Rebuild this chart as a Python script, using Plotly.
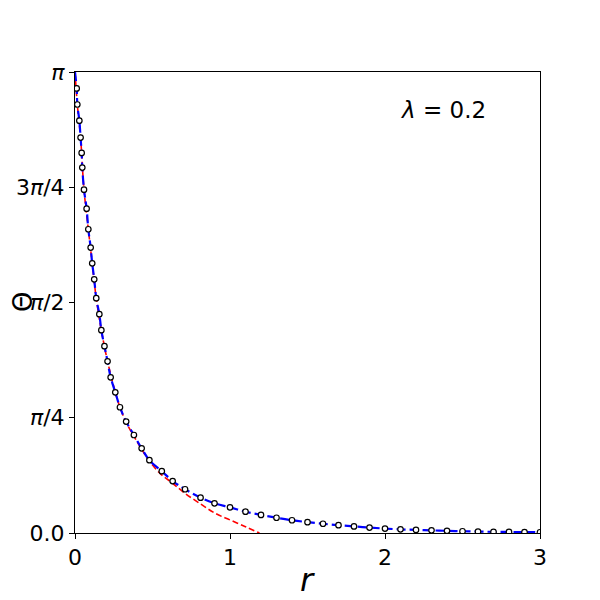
import numpy as np
import plotly.graph_objects as go

# numerical solution (open circles)
r_pts = [0.011, 0.015, 0.028, 0.036, 0.043, 0.047, 0.058, 0.075, 0.086, 0.101,
         0.111, 0.124, 0.137, 0.157, 0.17, 0.19, 0.21, 0.23, 0.26, 0.29,
         0.33, 0.38, 0.43, 0.48, 0.56, 0.63, 0.71, 0.81, 0.9, 1.0,
         1.1, 1.2, 1.3, 1.4, 1.5, 1.6, 1.7, 1.8, 1.9, 2.0,
         2.1, 2.2, 2.3, 2.4, 2.5, 2.6, 2.7, 2.8, 2.9, 3.0]
theta_pts = [3.03, 2.92, 2.81, 2.695, 2.59, 2.49, 2.34, 2.21, 2.07, 1.945,
             1.838, 1.729, 1.60, 1.491, 1.382, 1.273, 1.17, 1.061, 0.959, 0.857,
             0.759, 0.668, 0.577, 0.496, 0.421, 0.354, 0.298, 0.241, 0.202, 0.175,
             0.145, 0.123, 0.104, 0.087, 0.074, 0.063, 0.053, 0.045, 0.037, 0.030,
             0.025, 0.021, 0.018, 0.015, 0.012, 0.010, 0.008, 0.007, 0.006, 0.005]

# blue dashed curve (full solution)
r_blue = [0.0] + r_pts
theta_blue = [np.pi] + theta_pts

# red dashed curve (small-r approximation)
r_red = [0.0, 0.015, 0.036, 0.058, 0.086, 0.111, 0.137, 0.17, 0.21, 0.26,
         0.29, 0.33, 0.38, 0.43, 0.48, 0.55, 0.63, 0.71, 0.81, 0.905,
         1.0, 1.1, 1.19]
theta_red = [np.pi, 2.92, 2.695, 2.34, 2.07, 1.838, 1.60, 1.382, 1.17, 0.959,
             0.857, 0.755, 0.66, 0.57, 0.49, 0.405, 0.339, 0.27, 0.198, 0.134,
             0.089, 0.043, 0.0]

y_ticks = [0, np.pi / 4, np.pi / 2, 3 * np.pi / 4, np.pi]
y_tick_text = ["0.0", "<i>π</i>/4", "<i>π</i>/2", "3<i>π</i>/4", "<i>π</i>"]
x_ticks = [0, 1, 2, 3]

fig = go.Figure()
fig.add_trace(go.Scatter(x=r_red, y=theta_red, mode="lines",
                         line=dict(color="red", width=1.6, dash="6px,3px", shape="spline")))
fig.add_trace(go.Scatter(x=r_blue, y=theta_blue, mode="lines",
                         line=dict(color="blue", width=2.2, dash="9px,4px", shape="spline")))
fig.add_trace(go.Scatter(x=r_pts, y=theta_pts, mode="markers",
                         marker=dict(symbol="circle", size=5.5, color="white",
                                     line=dict(color="black", width=1.2))))

fig.add_annotation(text="<i>λ</i> = 0.2", xref="paper", yref="paper", x=0.791, y=0.918,
                   xanchor="center", yanchor="middle",
                   showarrow=False, font=dict(size=23, color="black"))
fig.add_annotation(text="<i>r</i>", xref="paper", yref="paper", x=0.499, y=-0.102,
                   xanchor="center", yanchor="middle",
                   showarrow=False, font=dict(size=32, color="black"))
fig.add_annotation(text="Θ", xref="paper", yref="paper", x=-0.112, y=0.501,
                   xanchor="center", yanchor="middle",
                   showarrow=False, textangle=-90, font=dict(size=26, color="black"))

axis_style = dict(showgrid=False, zeroline=False, showline=True, linecolor="black",
                  linewidth=1, mirror=True, ticks="outside", ticklen=5, tickcolor="black",
                  automargin=False, tickfont=dict(size=22, color="black"))

fig.update_layout(
    width=600,
    height=600,
    plot_bgcolor="white",
    paper_bgcolor="white",
    font=dict(family="DejaVu Sans", color="black"),
    showlegend=False,
    margin=dict(l=67, r=68, t=64, b=75),
    xaxis=dict(range=[0, 3], tickvals=x_ticks, ticktext=[str(v) for v in x_ticks], **axis_style),
    yaxis=dict(range=[0, np.pi], tickvals=y_ticks, ticktext=y_tick_text, **axis_style),
)

fig.write_html("out.html")
